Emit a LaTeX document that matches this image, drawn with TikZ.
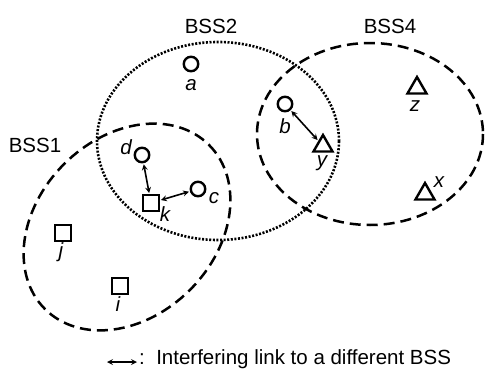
\documentclass[tikz,border=0pt]{standalone}
\usepackage{fontspec}
\setmainfont{Liberation Sans}
\usetikzlibrary{shapes.geometric}

\begin{document}
\begin{tikzpicture}
[x=1pt, y=-1pt, >=stealth,
 every node/.style={inner sep=0pt, font=\fontsize{20.5}{24}\selectfont},
 station/.style={circle, minimum size=14.5pt, line width=2.4pt, draw=black},
 apnode/.style={rectangle, minimum size=15.5pt, line width=2.4pt, draw=black},
 remote/.style={regular polygon, regular polygon sides=3, minimum size=22pt, line width=2.4pt, draw=black},
 tag/.style={font=\fontsize{20.5}{24}\selectfont\itshape},
 link/.style={line width=1.6pt, <->, shorten >=1pt, shorten <=1pt},
 areadash/.style={line width=2.5pt, dash pattern=on 11pt off 6pt},
 areadot/.style={line width=2.6pt, dash pattern=on 2pt off 1.6pt}]
\useasboundingbox (0,0) rectangle (485,372);
% coverage areas
\draw [areadash, rotate around={45:(127,227)}] (127,227) ellipse [x radius=116, y radius=89];
\draw [areadot] (218,141) ellipse [x radius=121, y radius=99];
\draw [areadash] (370,134) ellipse [x radius=113, y radius=91];
\node (bss1) at (35,145) {BSS1};
\node (bss2) at (211,26) {BSS2};
\node (bss4) at (390,26) {BSS4};
% stations
\node (a) [station] at (191,64) {};
\node (b) [station] at (285,104) {};
\node (d) [station] at (142,155) {};
\node (c) [station] at (198,189) {};
\node (k) [apnode] at (151,203) {};
\node (j) [apnode] at (63,233) {};
\node (i) [apnode] at (120,286) {};
\node (y) [remote] at (323,146) {};
\node (z) [remote] at (417,88) {};
\node (x) [remote] at (425,194) {};
\node (la) [tag] at (191,85) {a};
\node (lb) [tag] at (285,126) {b};
\node (ld) [tag] at (126,147) {d};
\node (lc) [tag] at (214,198) {c};
\node (lk) [tag] at (165,214) {k};
\node (lj) [tag] at (61,252) {j};
\node (li) [tag] at (118,304) {i};
\node (ly) [tag] at (322,163) {y};
\node (lz) [tag] at (415,106) {z};
\node (lx) [tag] at (439,182) {x};
% interfering links
\draw [link] (d) to (k);
\draw [link] (k) to (c);
\draw [link] (b) to (y);
% legend
\coordinate (keyl) at (107,362);
\coordinate (keyr) at (137,362);
\draw [link, shorten >=0pt, shorten <=0pt] (keyl) to (keyr);
\node (keytext) [anchor=west] at (139,359) {:\ \ Interfering link to a different BSS};
\end{tikzpicture}
\end{document}
